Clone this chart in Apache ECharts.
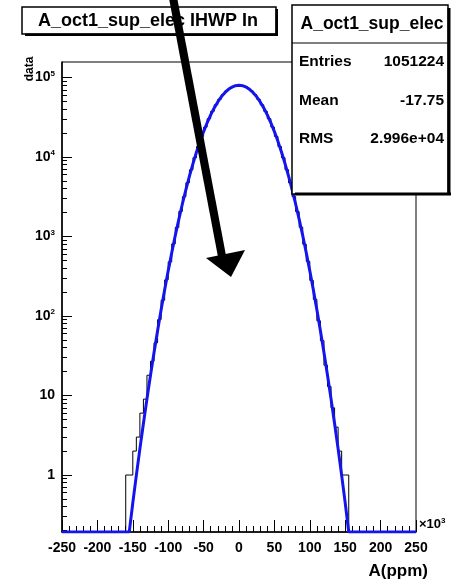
<!DOCTYPE html>
<html>
<head>
<meta charset="utf-8">
<script src="https://cdn.jsdelivr.net/npm/echarts@6/dist/echarts.min.js"></script>
<style>
  html, body { margin: 0; padding: 0; background: #fff; }
  #chart { width: 456px; height: 580px; }
</style>
</head>
<body>
<div id="chart"></div>
<script>
// Histogram: low edges of the 5-unit bins (x10^3) and their contents
const binWidth = 5;
const binLowEdges = [
  -160, -155, -150, -145, -140, -135, -130, -125, -120, -115, -110, -105, -100, -95, -90, -85,
  -80, -75, -70, -65, -60, -55, -50, -45, -40, -35, -30, -25, -20, -15, -10, -5,
  0, 5, 10, 15, 20, 25, 30, 35, 40, 45, 50, 55, 60, 65, 70, 75,
  80, 85, 90, 95, 100, 105, 110, 115, 120, 125, 130, 135, 140, 145, 150
];
const binCounts = [
  1, 1, 2, 3, 6, 9, 18, 27, 46, 90, 158, 285, 480, 808, 1302, 2070,
  3165, 4750, 6905, 9810, 13525, 18190, 23780, 30310, 37560, 45350, 53270, 60950, 67850, 73560, 77610, 79740,
  79720, 77630, 73540, 67870, 60930, 53290, 45330, 37580, 30290, 23800, 18170, 13540, 9795, 6920, 4735, 3180,
  2055, 1310, 800, 487, 280, 162, 87, 49, 24, 13, 7, 4, 2, 1, 1
];

// Gaussian fit curve, sampled along x (values below the frame sit on the floor)
const fitX = [
  -250, -155, -150, -145, -140, -135, -130, -125, -120, -115, -110, -105, -100, -95, -90, -85,
  -80, -75, -70, -65, -60, -55, -50, -45, -40, -35, -30, -25, -20, -15, -10, -5, 0,
  5, 10, 15, 20, 25, 30, 35, 40, 45, 50, 55, 60, 65, 70, 75, 80,
  85, 90, 95, 100, 105, 110, 115, 120, 125, 130, 135, 140, 145, 150, 155, 250
];
const fitY = [
  0.192, 0.192, 0.447, 0.99, 2.13, 4.45, 9.08, 18.0, 34.8, 65.4, 119.8, 213.5, 370, 626, 1029, 1646,
  2565, 3890, 5744, 8258, 11554, 15740, 20870, 26941, 33853, 41414, 49318, 57172, 64523, 70887, 75814, 78932, 80000,
  78932, 75814, 70887, 64523, 57172, 49318, 41414, 33853, 26941, 20870, 15740, 11554, 8258, 5744, 3890, 2565,
  1646, 1029, 626, 370, 213.5, 119.8, 65.4, 34.8, 18.0, 9.08, 4.45, 2.13, 0.99, 0.447, 0.192, 0.192
];

// Axis ranges and tick values
const xMin = -250, xMax = 250, xStep = 50;
const yMin = 0.192, yMax = 156700;
const yMajorTicks = [1, 10, 100, 1000, 10000, 100000];
const yMinorTicks = [
  0.2, 0.3, 0.4, 0.5, 0.6, 0.7, 0.8, 0.9,
  2, 3, 4, 5, 6, 7, 8, 9,
  20, 30, 40, 50, 60, 70, 80, 90,
  200, 300, 400, 500, 600, 700, 800, 900,
  2000, 3000, 4000, 5000, 6000, 7000, 8000, 9000,
  20000, 30000, 40000, 50000, 60000, 70000, 80000, 90000
];

// Text of the title and statistics panels
const histTitle = 'A_oct1_sup_elec IHWP In';
const statsName = 'A_oct1_sup_elec';
const statsRows = [
  ['Entries', '1051224'],
  ['Mean', '-17.75'],
  ['RMS', '2.996e+04']
];

const FONT = '"Liberation Sans", Arial, Helvetica, sans-serif';
const GRID = { left: 62, right: 40, top: 62, bottom: 48 };
const plotWidth = 456 - GRID.left - GRID.right;

// Histogram outline as a step line: each bin drawn from its low edge
const histData = [[binLowEdges[0], yMin]];
binLowEdges.forEach((e, i) => histData.push([e, binCounts[i]]));
histData.push([binLowEdges[binLowEdges.length - 1] + binWidth, yMin]);

const fitData = fitX.map((x, i) => [x, fitY[i]]);

function logLabel(v) {
  const e = Math.round(Math.log10(v));
  if (e === 0) return '{b|1}';
  if (e === 1) return '{b|10}';
  return '{b|10}{s|' + e + '}';
}

const chart = echarts.init(document.getElementById('chart'), null, { renderer: 'canvas' });

// Panels drawn on top of the frame
const graphics = [];
// title panel
graphics.push({ type: 'rect', z: 100, shape: { x: 22, y: 7, width: 254, height: 27 },
  style: { fill: '#fff', stroke: '#000', lineWidth: 1.5 } });
graphics.push({ type: 'rect', z: 101, shape: { x: 25, y: 33.5, width: 253, height: 2.5 }, style: { fill: '#000' } });
graphics.push({ type: 'rect', z: 101, shape: { x: 275.5, y: 9, width: 2.5, height: 27 }, style: { fill: '#000' } });
graphics.push({ type: 'text', z: 102, x: 148, y: 21,
  style: { text: histTitle, font: 'bold 18px ' + FONT, fill: '#000', align: 'center', verticalAlign: 'middle' } });
// statistics panel
graphics.push({ type: 'rect', z: 100, shape: { x: 292, y: 5, width: 156, height: 189 },
  style: { fill: '#fff', stroke: '#000', lineWidth: 1.5 } });
graphics.push({ type: 'rect', z: 101, shape: { x: 295, y: 192.5, width: 156, height: 3 }, style: { fill: '#000' } });
graphics.push({ type: 'rect', z: 101, shape: { x: 447.5, y: 8, width: 3, height: 187 }, style: { fill: '#000' } });
graphics.push({ type: 'line', z: 101, shape: { x1: 292, y1: 43, x2: 448, y2: 43 }, style: { stroke: '#000', lineWidth: 1.2 } });
graphics.push({ type: 'text', z: 102, x: 372, y: 24,
  style: { text: statsName, font: 'bold 17.5px ' + FONT, fill: '#000', align: 'center', verticalAlign: 'middle' } });
statsRows.forEach((row, i) => {
  const y = 62 + i * 38.5;
  graphics.push({ type: 'text', z: 102, x: 299, y: y,
    style: { text: row[0], font: 'bold 15.5px ' + FONT, fill: '#000', align: 'left', verticalAlign: 'middle' } });
  graphics.push({ type: 'text', z: 102, x: 444, y: y,
    style: { text: row[1], font: 'bold 15.5px ' + FONT, fill: '#000', align: 'right', verticalAlign: 'middle' } });
});
// y axis title and x axis exponent
graphics.push({ type: 'text', z: 50, x: 30, y: 69, rotation: Math.PI / 2,
  style: { text: 'data', font: 'bold 12px ' + FONT, fill: '#000', align: 'center', verticalAlign: 'middle' } });
graphics.push({ type: 'text', z: 50, x: 419, y: 524,
  style: { text: '{m|\u00d710}{s|3}', verticalAlign: 'middle',
    rich: { m: { font: 'bold 13px ' + FONT, fill: '#000', lineHeight: 15 },
            s: { font: 'bold 8px ' + FONT, fill: '#000', verticalAlign: 'top', lineHeight: 8 } } } });
// pointer arrow
graphics.push({ type: 'polygon', z: 200,
  shape: { points: [[177, -3], [169, -1.5], [218, 257], [226, 255.5]] }, style: { fill: '#000' } });
graphics.push({ type: 'polygon', z: 200,
  shape: { points: [[206, 258], [245, 250], [231, 277]] }, style: { fill: '#000' } });

const option = {
  animation: false,
  backgroundColor: '#fff',
  grid: {
    left: GRID.left, right: GRID.right, top: GRID.top, bottom: GRID.bottom,
    show: true, borderColor: '#000', borderWidth: 1, backgroundColor: 'transparent',
    containLabel: false, outerBoundsMode: 'none'
  },
  xAxis: {
    type: 'value', min: xMin, max: xMax, interval: xStep,
    axisLine: { show: true, onZero: false, lineStyle: { color: '#000', width: 1.5 } },
    axisTick: { show: true, inside: true, length: 12, lineStyle: { color: '#000', width: 1 } },
    minorTick: { show: true, splitNumber: 5, length: 6, lineStyle: { color: '#000', width: 1 } },
    axisLabel: { color: '#000', fontFamily: FONT, fontWeight: 'bold', fontSize: 14, margin: 9 },
    splitLine: { show: false },
    name: 'A(ppm)', nameLocation: 'end', nameGap: 12,
    nameTextStyle: { color: '#000', fontFamily: FONT, fontWeight: 'bold', fontSize: 17,
      align: 'right', verticalAlign: 'top', padding: [31, 0, 0, 0] }
  },
  yAxis: [{
    type: 'log', logBase: 10, min: yMin, max: yMax, position: 'left',
    axisLine: { show: true, onZero: false, lineStyle: { color: '#000', width: 1.5 } },
    axisTick: { show: true, inside: true, length: 10, customValues: yMajorTicks, lineStyle: { color: '#000', width: 1 } },
    axisLabel: {
      customValues: yMajorTicks, margin: 7, formatter: logLabel,
      rich: {
        b: { fontFamily: FONT, fontWeight: 'bold', fontSize: 14, color: '#000', lineHeight: 16 },
        s: { fontFamily: FONT, fontWeight: 'bold', fontSize: 8, color: '#000', verticalAlign: 'top', lineHeight: 8 }
      }
    },
    splitLine: { show: false }, minorTick: { show: false }
  }, {
    // minor decade ticks, moved from the right edge onto the left frame line
    type: 'log', logBase: 10, min: yMin, max: yMax, position: 'right', offset: -plotWidth,
    axisLine: { show: false, onZero: false },
    axisTick: { show: true, inside: false, length: 5, customValues: yMinorTicks, lineStyle: { color: '#000', width: 1 } },
    axisLabel: { show: false },
    splitLine: { show: false }
  }],
  series: [{
    name: 'histogram', type: 'line', step: 'end', data: histData, yAxisIndex: 0,
    showSymbol: false, symbol: 'none', clip: true, z: 3,
    lineStyle: { color: '#000', width: 1 }
  }, {
    name: 'fit', type: 'line', data: fitData, yAxisIndex: 0,
    showSymbol: false, symbol: 'none', clip: true, z: 4, smooth: false,
    lineStyle: { color: '#1414ee', width: 3 }
  }],
  graphic: graphics
};

chart.setOption(option);
</script>
</body>
</html>
